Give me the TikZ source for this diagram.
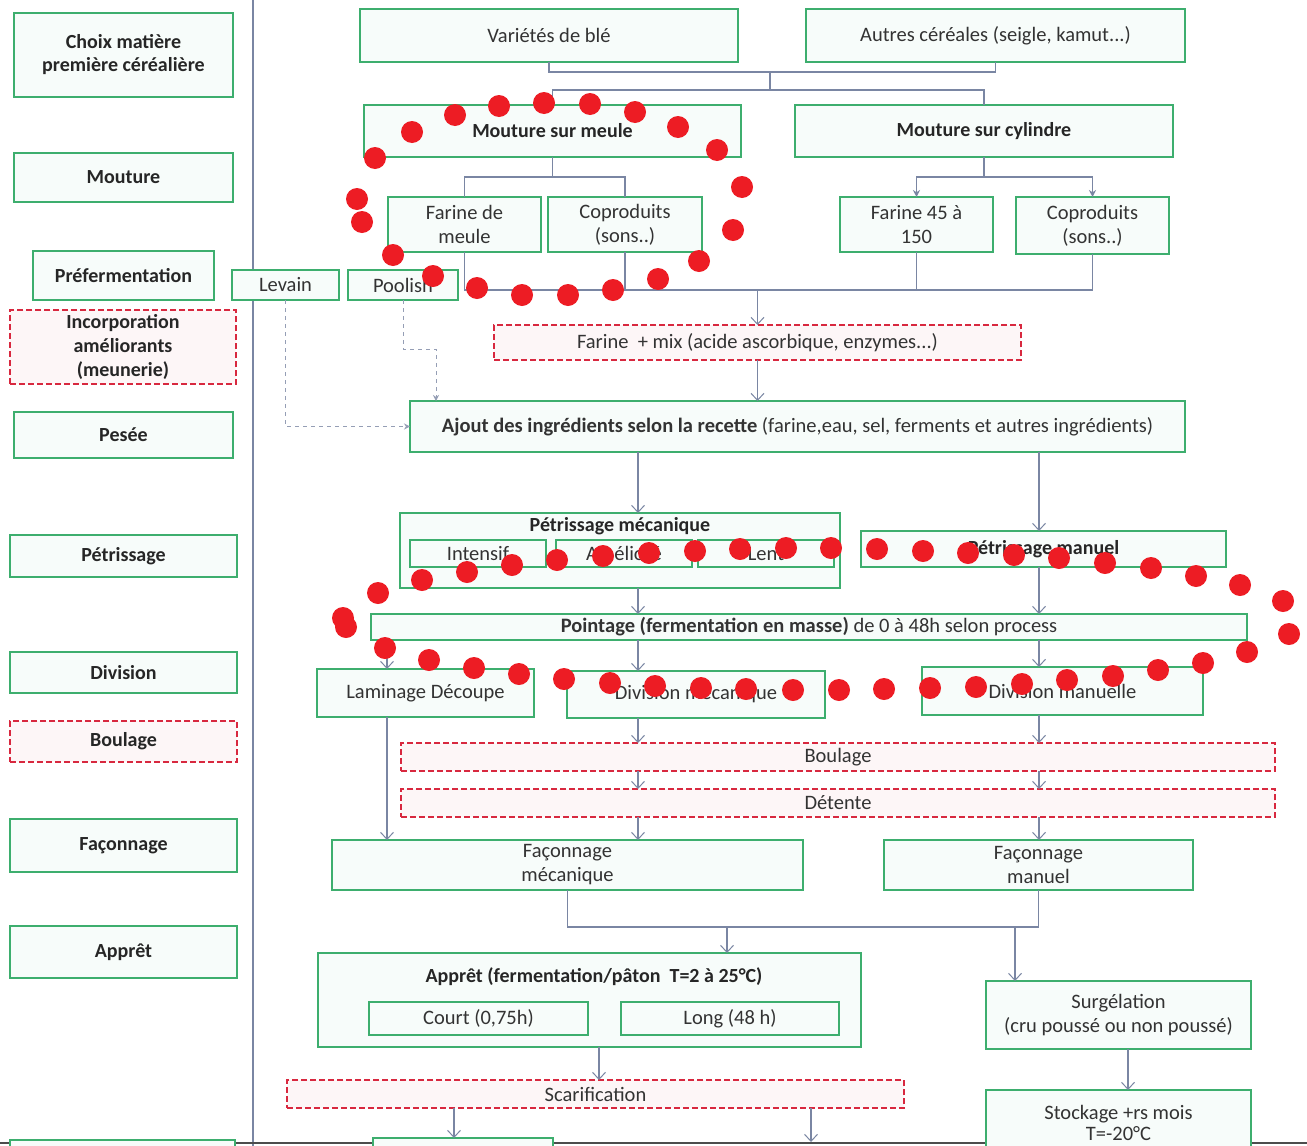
\documentclass[tikz,border=0pt]{standalone}
\usepackage{fontspec}
\setmainfont{Carlito}
\usetikzlibrary{arrows.meta,calc}
\definecolor{gB}{HTML}{3DAE6E}
\definecolor{gF}{HTML}{F7FCFA}
\definecolor{rB}{HTML}{D8283F}
\definecolor{rF}{HTML}{FDF6F7}
\definecolor{lnC}{HTML}{7A86A3}
\definecolor{txC}{HTML}{333333}
\definecolor{dotR}{HTML}{ED1C24}
\newcommand\mkbox[7]{\node[#1, minimum width={(#5)-(#3)}, minimum height={(#6)-(#4)}] (#2) at ({((#3)+(#5))/2},{((#4)+(#6))/2}) {#7};}
\begin{document}
\begin{tikzpicture}[x=1pt,y=-1pt,
  gbox/.style={draw=gB, fill=gF, line width=2pt, inner sep=0pt, outer sep=0pt, align=center, text=txC, font=\fontsize{20.5}{24}\selectfont},
  bbox/.style={gbox, font=\fontsize{20}{23}\selectfont\bfseries, text=black!85},
  rbox/.style={gbox, draw=rB, fill=rF, dashed, dash pattern=on 6pt off 3pt},
  rbbox/.style={rbox, font=\fontsize{20}{24}\selectfont\bfseries, text=black!85},
  conn/.style={draw=lnC, line width=1.1pt},
  arrV/.style={conn, -{Straight Barb[length=7pt,width=13pt,line width=1pt]}},
  arrS/.style={conn, -{Stealth[length=7pt,width=7pt]}},
  dsh/.style={draw=lnC!80, line width=1pt, dash pattern=on 4pt off 4pt},
  dshA/.style={dsh, -{Stealth[length=6pt,width=6pt]}},
  ttl/.style={inner sep=0pt, font=\fontsize{20}{23}\selectfont\bfseries, text=black!85}]
\useasboundingbox (0,0) rectangle (1307,1146);
\clip (0,0) rectangle (1307,1146);
\fill[white] (0,0) rectangle (1307,1146);
% separator and bottom rule
\draw[lnC, line width=1.5pt] (253,0) -- (253,1146);
\draw[black!70, line width=1.2pt] (0,1143) -- (1307,1143);
% column coordinates
\coordinate (colA) at (638,0);
\coordinate (colB) at (1039,0);
\coordinate (colL) at (387,0);
\coordinate (colC) at (727,0);
\coordinate (colD) at (1015,0);
\coordinate (colE) at (599,0);
\coordinate (colF) at (1128,0);
\coordinate (colG) at (454,0);
\coordinate (bus) at (0,290);
\coordinate (bus2) at (0,927);
\coordinate (j1) at (770,72);
\coordinate (j2) at (770,90);
\coordinate (ajp) at (436,0);
\coordinate (endS) at (811,1146);
% left column
\mkbox{bbox}{L1}{14}{13}{233}{97}{Choix matière\\première céréalière}
\mkbox{bbox}{L2}{14}{153}{233}{202}{Mouture}
\mkbox{bbox}{L3}{33}{251}{214}{300}{Préfermentation}
\mkbox{rbbox}{L4}{10}{310}{236}{384}{Incorporation\\améliorants\\(meunerie)}
\mkbox{bbox}{L5}{14}{412}{233}{458}{Pesée}
\mkbox{bbox}{L6}{10}{535}{237}{577}{Pétrissage}
\mkbox{bbox}{L7}{10}{652}{237}{693}{Division}
\mkbox{rbbox}{L8}{10}{721}{237}{762}{Boulage}
\mkbox{bbox}{L9}{10}{819}{237}{872}{Façonnage}
\mkbox{bbox}{L10}{10}{926}{237}{978}{Apprêt}
\mkbox{bbox}{L11}{10}{1140}{235}{1190}{}
% top
\mkbox{gbox}{V1}{360}{9}{738}{62}{Variétés de blé}
\mkbox{gbox}{V2}{806}{9}{1185}{62}{Autres céréales (seigle, kamut...)}
\mkbox{bbox}{M1}{364}{105}{741}{157}{Mouture sur meule}
\mkbox{bbox}{M2}{795}{105}{1173}{157}{Mouture sur cylindre}
\mkbox{gbox}{F1}{388}{197}{541}{252}{Farine de\\meule}
\mkbox{gbox}{C1}{548}{197}{702}{252}{Coproduits\\(sons..)}
\mkbox{gbox}{F2}{840}{197}{993}{252}{Farine 45 à\\150}
\mkbox{gbox}{C2}{1016}{197}{1169}{254}{Coproduits\\(sons..)}
\mkbox{gbox}{Lev}{232}{270}{339}{300}{Levain}
\mkbox{gbox}{Poo}{348}{270}{458}{300}{Poolish}
\mkbox{rbox}{FM}{494}{325}{1021}{360}{Farine \ + mix (acide ascorbique, enzymes...)}
\mkbox{gbox}{AJ}{410}{401}{1185}{452}{\textbf{Ajout des ingrédients selon la recette} (farine,eau, sel, ferments et autres ingrédients)}
% petrissage
\mkbox{gbox}{PM}{400}{513}{840}{588}{}
\node[ttl] (PMt) at (620,526) {Pétrissage mécanique};
\mkbox{gbox}{I1}{410}{540}{546}{567}{Intensif}
\mkbox{gbox}{I2}{556}{540}{692}{567}{Amélioré}
\mkbox{gbox}{I3}{698}{540}{834}{567}{Lent}
\mkbox{bbox}{PMan}{861}{531}{1226}{567}{Pétrissage manuel}
\mkbox{gbox}{PT}{371}{614}{1247}{640}{\textbf{Pointage (fermentation en masse)} de 0 à 48h selon process}
\mkbox{gbox}{LD}{317}{669}{534}{717}{Laminage Découpe}
\mkbox{gbox}{DM}{567}{671}{825}{718}{Division mécanique}
\mkbox{gbox}{DMa}{922}{667}{1203}{715}{Division manuelle}
\mkbox{rbox}{BO}{401}{743}{1275}{771}{Boulage}
\mkbox{rbox}{DE}{401}{789}{1275}{817}{Détente}
\mkbox{gbox}{FMe}{332}{840}{803}{890}{Façonnage\\mécanique}
\mkbox{gbox}{FMa}{884}{840}{1193}{890}{Façonnage\\manuel}
\mkbox{gbox}{AP}{318}{953}{861}{1047}{}
\node[ttl] (APt) at (594,977) {Apprêt (fermentation/pâton \ T=2 à 25°C)};
\mkbox{gbox}{CO}{369}{1002}{588}{1035}{Court (0,75h)}
\mkbox{gbox}{LO}{621}{1002}{839}{1035}{Long (48 h)}
\mkbox{gbox}{SU}{986}{981}{1251}{1049}{Surgélation\\(cru poussé ou non poussé)}
\mkbox{rbox}{SC}{287}{1080}{904}{1108}{Scarification}
\mkbox{gbox}{ST}{986}{1090}{1251}{1156}{Stockage +rs mois\\[-3pt]T=-20°C}
\mkbox{gbox}{BB}{373}{1138}{553}{1190}{}
% connectors top
\draw[conn] (V1.south) |- (j1) -| (V2.south);
\draw[conn] (j1) -- (j2);
\draw[conn] (M1.north) |- (j2) -| (M2.north);
\draw[conn] (M1.south) -- ++(0,20);
\draw[conn] (F1.north) -- ++(0,-20) -| (C1.north);
\draw[conn] (M2.south) -- ++(0,20) coordinate (m2j);
\draw[arrS] (m2j) -| (F2.north);
\draw[arrS] (m2j) -| (C2.north);
\draw[conn] (F1.south) -- (F1.south |- bus) -- (C2.south |- bus) -- (C2.south);
\draw[conn] (C1.south) -- (C1.south |- bus);
\draw[conn] (F2.south) -- (F2.south |- bus);
\draw[arrV, line width=1.4pt] (FM.north |- bus) -- (FM.north);
\draw[arrV] (FM.south) -- (FM.south |- AJ.north);
\draw[dshA] (Lev.south) |- (AJ.west);
\draw[dshA] (Poo.south) -- ++(0,49) -| (ajp |- AJ.north);
% middle
\draw[arrV] (AJ.south -| colA) -- (PM.north -| colA);
\draw[arrV] (AJ.south -| colB) -- (PMan.north -| colB);
\draw[arrV] (PM.south -| colA) -- (PT.north -| colA);
\draw[arrV] (PMan.south -| colB) -- (PT.north -| colB);
\draw[arrV] (PT.south -| colL) -- (LD.north -| colL);
\draw[arrV] (PT.south -| colA) -- (DM.north -| colA);
\draw[arrV] (PT.south -| colB) -- (DMa.north -| colB);
\draw[arrV] (LD.south -| colL) -- (FMe.north -| colL);
\draw[arrV] (DM.south -| colA) -- (BO.north -| colA);
\draw[arrV] (DMa.south -| colB) -- (BO.north -| colB);
\draw[arrV] (BO.south -| colA) -- (DE.north -| colA);
\draw[arrV] (BO.south -| colB) -- (DE.north -| colB);
\draw[arrV] (DE.south -| colA) -- (FMe.north -| colA);
\draw[arrV] (DE.south -| colB) -- (FMa.north -| colB);
% bottom
\draw[conn] (FMe.south) -- (FMe.south |- bus2) -- (FMa.south |- bus2) -- (FMa.south);
\draw[arrV] (colC |- bus2) -- (AP.north -| colC);
\draw[arrV] (colD |- bus2) -- (SU.north -| colD);
\draw[arrV] (AP.south -| colE) -- (SC.north -| colE);
\draw[arrV] (SU.south -| colF) -- (ST.north -| colF);
\draw[arrV] (SC.south -| colG) -- (BB.north -| colG);
\draw[arrV] (SC.south -| endS) -- ($(endS)+(0,-4)$);
% red dotted annotations
\foreach \p in {(412,132),(375,158),(357,199),(362,222),(393,255),(433,276),(455,115),(499,106),(544,103),(590,104),(635,112),(678,127),(717,150),(742,187),(733,230),(699,261),(658,279),(613,290),(568,295),(522,295),(477,288)}
  \fill[dotR] \p circle (11);
\foreach \p in {(831,548),(786,548),(740,549),(695,551),(649,553),(603,556),(557,560),(512,565),(467,572),(422,580),(378,593),(343,618),(346,627),(385,648),(429,660),(474,668),(519,674),(564,679),(610,683),(655,686),(701,688),(746,689),(793,690),(839,690),(877,549),(923,551),(968,553),(1014,555),(1059,558),(1105,563),(1151,568),(1196,576),(1240,585),(1283,601),(1289,634),(1247,652),(1203,663),(1158,670),(1113,676),(1067,680),(1022,684),(976,687),(930,688),(884,689)}
  \fill[dotR] \p circle (11);
\end{tikzpicture}
\end{document}
